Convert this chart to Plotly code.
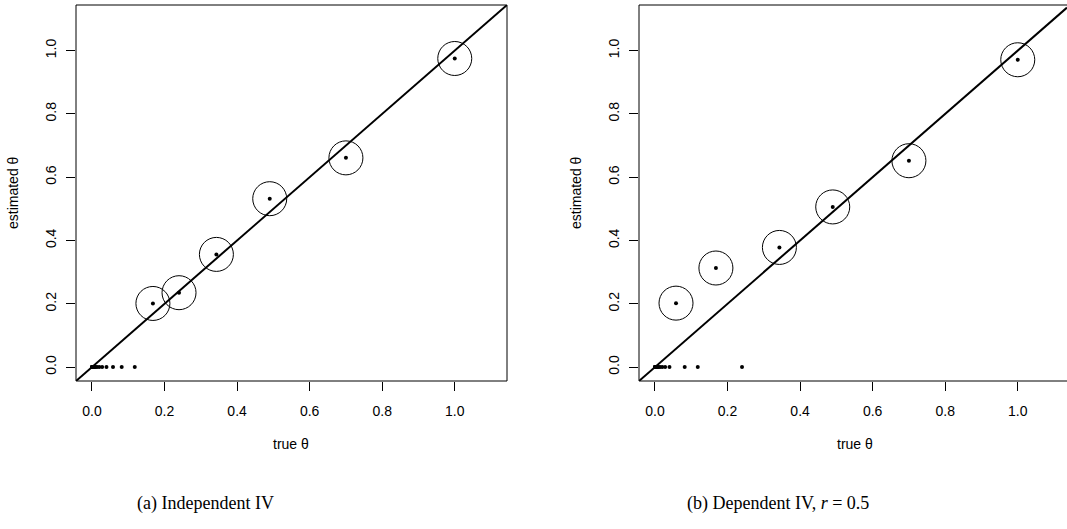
import plotly.graph_objects as go

W, H = 1067, 529

# ---- data ----
# panel (a): Independent IV
a_true_nz = [1.0, 0.7, 0.49, 0.343, 0.24, 0.168]
a_est_nz = [0.975, 0.661, 0.532, 0.356, 0.235, 0.201]
a_true_zero = [0.118, 0.082, 0.058, 0.040, 0.028, 0.020, 0.014, 0.010, 0.007,
               0.005, 0.0033, 0.0023, 0.0016, 0.0011, 0.0008, 0.0005, 0.0003, 0.0001]
a_est_zero = [0.0] * len(a_true_zero)

# panel (b): Dependent IV, r = 0.5
b_true_nz = [1.0, 0.7, 0.49, 0.343, 0.168, 0.058]
b_est_nz = [0.971, 0.652, 0.506, 0.378, 0.313, 0.202]
b_true_zero = [0.24, 0.118, 0.082, 0.040, 0.028, 0.020, 0.014, 0.010, 0.007,
               0.005, 0.0033, 0.0023, 0.0016, 0.0011, 0.0008, 0.0005, 0.0003, 0.0001]
b_est_zero = [0.0] * len(b_true_zero)

tick_vals = [0.0, 0.2, 0.4, 0.6, 0.8, 1.0]
tick_text = ["0.0", "0.2", "0.4", "0.6", "0.8", "1.0"]

x_title = "true θ"
y_title = "estimated θ"
captions = ["(a) Independent IV", "(b) Dependent IV, <i>r</i> = 0.5"]

# ---- layout geometry (pixels) ----
LO = -0.044
HI_A = 1.144
PX_PER_UNIT = (507 - 76) / (HI_A - LO)
box_top, box_bot = 5, 381
a_left, a_right = 76, 507
b_left = 639
b_right_full = b_left + (a_right - a_left)
HI_B = LO + (W - b_left) / PX_PER_UNIT

def fx(p):
    return p / W

def fy(p):
    return 1 - p / H

fig = go.Figure()

FONT = "Liberation Sans"
BLACK = "#000000"

def add_panel(xa, ya, t_nz, e_nz, t_z, e_z, hi):
    # reference line y = x
    fig.add_trace(go.Scatter(x=[LO, hi], y=[LO, hi], mode="lines",
                             line=dict(color=BLACK, width=2),
                             xaxis=xa, yaxis=ya, hoverinfo="skip", showlegend=False))
    # circles
    fig.add_trace(go.Scatter(x=t_nz, y=e_nz, mode="markers",
                             marker=dict(symbol="circle-open", size=34,
                                         color=BLACK, line=dict(width=1, color=BLACK)),
                             xaxis=xa, yaxis=ya, showlegend=False, cliponaxis=False))
    # dots
    fig.add_trace(go.Scatter(x=t_nz + t_z, y=e_nz + e_z, mode="markers",
                             marker=dict(symbol="circle", size=4, color=BLACK),
                             xaxis=xa, yaxis=ya, showlegend=False))

add_panel("x", "y", a_true_nz, a_est_nz, a_true_zero, a_est_zero, HI_A)
add_panel("x2", "y2", b_true_nz, b_est_nz, b_true_zero, b_est_zero, HI_B)

xcommon = dict(tickvals=tick_vals, ticktext=tick_text, ticks="outside", ticklen=9,
               tickwidth=1, tickcolor=BLACK, showgrid=False, zeroline=False,
               showline=False, ticklabelstandoff=8,
               tickfont=dict(family=FONT, size=14, color=BLACK))
ycommon = dict(tickvals=tick_vals, ticktext=tick_text, ticks="outside", ticklen=9,
               tickwidth=1, tickcolor=BLACK, showgrid=False, zeroline=False,
               showline=False, tickangle=-90, ticklabelstandoff=4,
               tickfont=dict(family=FONT, size=14, color=BLACK))

ydom = [fy(box_bot), fy(box_top)]
fig.update_layout(
    width=W, height=H,
    margin=dict(l=0, r=0, t=0, b=0),
    paper_bgcolor="white", plot_bgcolor="white",
    showlegend=False,
    xaxis=dict(domain=[fx(a_left), fx(a_right)], range=[LO, HI_A], anchor="y", **xcommon),
    yaxis=dict(domain=ydom, range=[LO, HI_A], anchor="x", **ycommon),
    xaxis2=dict(domain=[fx(b_left), 1.0], range=[LO, HI_B], anchor="y2", **xcommon),
    yaxis2=dict(domain=ydom, range=[LO, HI_A], anchor="x2", **ycommon),
)

# boxes
for x0, x1 in [(a_left, a_right), (b_left, b_right_full)]:
    fig.add_shape(type="rect", xref="paper", yref="paper",
                  x0=fx(x0), x1=fx(x1), y0=fy(box_bot), y1=fy(box_top),
                  line=dict(color=BLACK, width=1), fillcolor="rgba(0,0,0,0)", layer="above")

# axis titles
for left, right in [(a_left, a_right), (b_left, b_right_full)]:
    fig.add_annotation(x=fx((left + right) / 2), y=fy(444), xref="paper", yref="paper",
                       text=x_title, showarrow=False, xanchor="center", yanchor="middle",
                       font=dict(family=FONT, size=14, color=BLACK))
    fig.add_annotation(x=fx(left - 63), y=fy((box_top + box_bot) / 2), xref="paper", yref="paper",
                       text=y_title, showarrow=False, textangle=-90, xanchor="center", yanchor="middle",
                       font=dict(family=FONT, size=14, color=BLACK))

# captions
for cx, txt in [(205, captions[0]), (778, captions[1])]:
    fig.add_annotation(x=fx(cx), y=fy(503), xref="paper", yref="paper",
                       text=txt, showarrow=False, xanchor="center", yanchor="middle",
                       font=dict(family="Liberation Serif", size=18, color=BLACK))

fig.write_html("out.html", config={"displayModeBar": False},
               post_script="document.body.style.margin='0';document.body.style.overflow='hidden';")
